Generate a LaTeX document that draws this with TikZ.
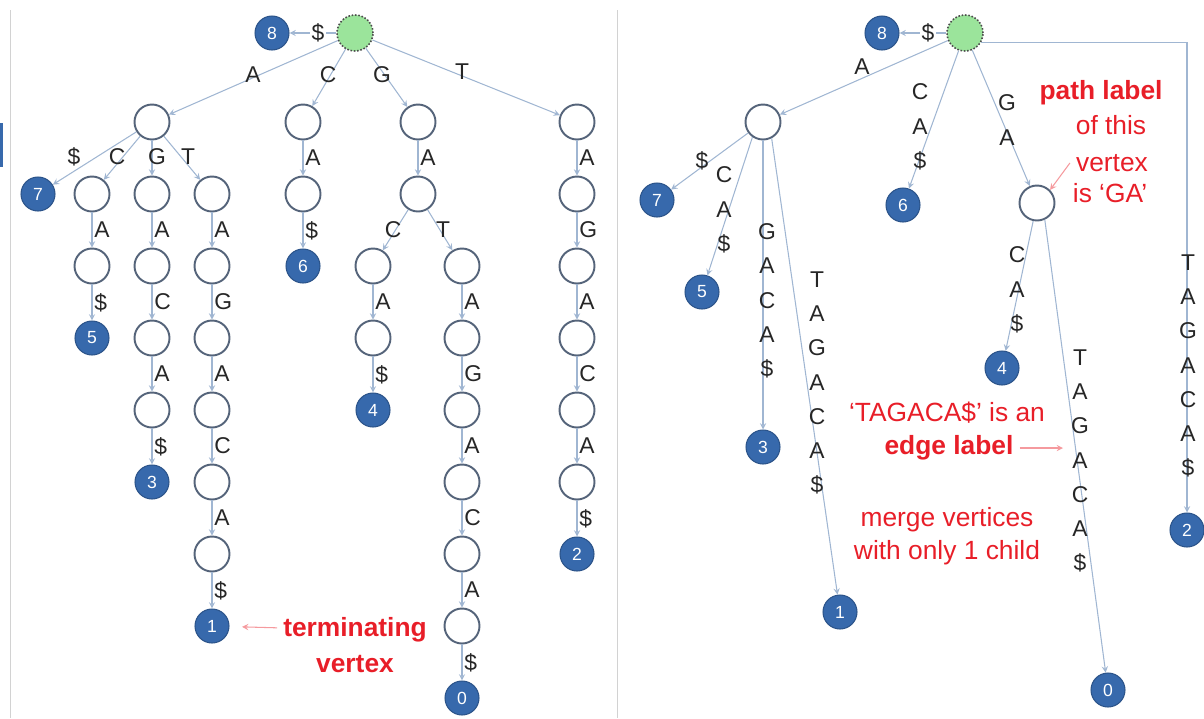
\documentclass[tikz,border=0pt]{standalone}
\usepackage{fontspec}
\setmainfont{Liberation Sans}
\definecolor{linea}{RGB}{160,182,210}
\definecolor{borde}{RGB}{85,100,122}
\definecolor{azul}{RGB}{55,105,172}
\definecolor{verde}{RGB}{155,228,155}
\definecolor{rojo}{RGB}{232,30,40}
\begin{document}
\begin{tikzpicture}[x=0.02cm, y=-0.02cm, >=stealth,
    vacio/.style={circle, draw=borde, line width=1.1pt, fill=white, minimum size=0.7cm, inner sep=0pt},
    hoja/.style={circle, draw=azul!80!black, line width=0.6pt, fill=azul, text=white, minimum size=0.68cm, inner sep=0pt, font=\fontsize{10}{12}\selectfont},
    raiz/.style={circle, draw=gray!60!black, densely dotted, line width=0.9pt, fill=verde, minimum size=0.72cm, inner sep=0pt},
    arista/.style={->, draw=linea, line width=0.6pt},
    letra/.style={inner sep=1pt, text=black!85, font=\fontsize{13}{19.5}\selectfont},
    pila/.style={letra, align=center},
    nota/.style={text=rojo, font=\fontsize{15}{18}\selectfont},
    notab/.style={text=rojo, font=\fontsize{15}{18}\selectfont\bfseries},
    flecha/.style={->, draw=rojo!45, line width=0.6pt}]
    \useasboundingbox (0,0) rectangle (1204,718);

    % Marco
    \draw[gray!35] (10,10) -- (10,718);
    \draw[gray!35] (617,10) -- (617,718);
    \fill[azul] (0,123) rectangle (3,167);

    % Trie de sufijos (izquierda)
    \node[raiz] (iR) at (355,33) {};
    \node[hoja] (i8) at (272,33) {8};
    \node[vacio] (iA) at (152,122) {};
    \node[vacio] (iC) at (303,122) {};
    \node[vacio] (iG) at (418,122) {};
    \node[vacio] (iT) at (577,122) {};
    \draw[arista] (iR) -- (i8);
    \foreach \n in {iA,iC,iG,iT}
        \draw[arista] (iR) -- (\n);
    \node[letra, fill=white] (e8) at (318,33) {\$};
    \node[letra] (eA) at (253,75) {A};
    \node[letra] (eC) at (328,75) {C};
    \node[letra] (eG) at (382,75) {G};
    \node[letra] (eT) at (462,72) {T};

    % Hijos de A
    \node[hoja] (i7) at (38,194) {7};
    \node[vacio] (iAC0) at (92,194) {};
    \node[vacio] (iAG0) at (152,194) {};
    \node[vacio] (iAT0) at (212,194) {};
    \foreach \n in {i7,iAC0,iAG0,iAT0}
        \draw[arista] (iA) -- (\n);
    \node[letra] (eA7) at (74,157) {\$};
    \node[letra] (eAC) at (117,157) {C};
    \node[letra] (eAG) at (157,157) {G};
    \node[letra] (eAT) at (188,157) {T};

    % Rama AC
    \node[vacio] (iAC1) at (92,266) {};
    \node[hoja] (i5) at (92,338) {5};
    \draw[arista] (iAC0) -- node[letra, right] (eAC1) {A} (iAC1);
    \draw[arista] (iAC1) -- node[letra, right] (eAC2) {\$} (i5);

    % Rama AG
    \foreach \l [count=\i, remember=\i as \p (initially 0)] in {A,C,A} {
        \node[vacio] (iAG\i) at (152,{194+72*\i}) {};
        \draw[arista] (iAG\p) -- node[letra, right] (eAG\i) {\l} (iAG\i);
    }
    \node[hoja] (i3) at (152,482) {3};
    \draw[arista] (iAG3) -- node[letra, right] (eAG4) {\$} (i3);

    % Rama AT
    \foreach \l [count=\i, remember=\i as \p (initially 0)] in {A,G,A,C,A} {
        \node[vacio] (iAT\i) at (212,{194+72*\i}) {};
        \draw[arista] (iAT\p) -- node[letra, right] (eAT\i) {\l} (iAT\i);
    }
    \node[hoja] (i1) at (212,626) {1};
    \draw[arista] (iAT5) -- node[letra, right] (eAT6) {\$} (i1);

    % Rama C
    \node[vacio] (iC1) at (303,194) {};
    \node[hoja] (i6) at (303,266) {6};
    \draw[arista] (iC) -- node[letra, right] (eC1) {A} (iC1);
    \draw[arista] (iC1) -- node[letra, right] (eC2) {\$} (i6);

    % Rama G
    \node[vacio] (iG1) at (418,194) {};
    \draw[arista] (iG) -- node[letra, right] (eG1) {A} (iG1);
    \node[vacio] (iGC0) at (373,266) {};
    \node[vacio] (iGT0) at (462,266) {};
    \draw[arista] (iG1) -- (iGC0);
    \draw[arista] (iG1) -- (iGT0);
    \node[letra] (eGC) at (393,230) {C};
    \node[letra] (eGT) at (443,230) {T};
    \node[vacio] (iGC1) at (373,338) {};
    \node[hoja] (i4) at (373,410) {4};
    \draw[arista] (iGC0) -- node[letra, right] (eGC1) {A} (iGC1);
    \draw[arista] (iGC1) -- node[letra, right] (eGC2) {\$} (i4);
    \foreach \l [count=\i, remember=\i as \p (initially 0)] in {A,G,A,C,A} {
        \node[vacio] (iGT\i) at (462,{266+72*\i}) {};
        \draw[arista] (iGT\p) -- node[letra, right] (eGT\i) {\l} (iGT\i);
    }
    \node[hoja] (i0) at (462,698) {0};
    \draw[arista] (iGT5) -- node[letra, right] (eGT6) {\$} (i0);

    % Rama T
    \foreach \l [count=\i] in {A,G,A,C,A} {
        \node[vacio] (iT\i) at (577,{122+72*\i}) {};
    }
    \draw[arista] (iT) -- node[letra, right] (eT1) {A} (iT1);
    \draw[arista] (iT1) -- node[letra, right] (eT2) {G} (iT2);
    \draw[arista] (iT2) -- node[letra, right] (eT3) {A} (iT3);
    \draw[arista] (iT3) -- node[letra, right] (eT4) {C} (iT4);
    \draw[arista] (iT4) -- node[letra, right] (eT5) {A} (iT5);
    \node[hoja] (i2) at (577,554) {2};
    \draw[arista] (iT5) -- node[letra, right] (eT6) {\$} (i2);

    % Nota izquierda
    \node[notab] (nt1) at (355,630) {terminating};
    \node[notab] (nt2) at (355,664) {vertex};
    \draw[flecha, shorten >=0.25cm] (nt1) -- (i1);

    % Arbol de sufijos (derecha)
    \node[raiz] (dR) at (965,33) {};
    \node[hoja] (d8) at (882,33) {8};
    \node[vacio] (dA) at (763,122) {};
    \node[hoja] (d7) at (657,200) {7};
    \node[hoja] (d5) at (702,292) {5};
    \node[hoja] (d3) at (763,447) {3};
    \node[hoja] (d1) at (840,612) {1};
    \node[hoja] (d6) at (903,205) {6};
    \node[vacio] (dGA) at (1037,203) {};
    \node[hoja] (d4) at (1002,368) {4};
    \node[hoja] (d0) at (1108,690) {0};
    \node[hoja] (d2) at (1187,530) {2};
    \draw[arista] (dR) -- (d8);
    \draw[arista] (dR) -- (dA);
    \draw[arista] (dR) -- (d6);
    \draw[arista] (dR) -- (dGA);
    \draw[arista] (dR.-30) -| (d2);
    \draw[arista] (dA) -- (d7);
    \draw[arista] (dA.-125) -- (d5);
    \draw[arista] (dA) -- (d3);
    \draw[arista] (dA.-62) -- (d1);
    \draw[arista] (dGA) -- (d4);
    \draw[arista] (dGA.-65) -- (d0);

    % Etiquetas de aristas
    \node[letra, fill=white] (f8) at (928,33) {\$};
    \node[letra] (fA) at (862,67) {A};
    \node[letra] (f7) at (702,161) {\$};
    \node[pila] (f5) at (724,210) {C\\A\\\$};
    \node[pila] (f3) at (767,301) {G\\A\\C\\A\\\$};
    \node[pila] (f1) at (817,383) {T\\A\\G\\A\\C\\A\\\$};
    \node[pila] (f6) at (920,127) {C\\A\\\$};
    \node[pila] (fGA) at (1007,120) {G\\A};
    \node[pila] (f4) at (1017,290) {C\\A\\\$};
    \node[pila] (f0) at (1080,461) {T\\A\\G\\A\\C\\A\\\$};
    \node[pila] (f2) at (1188,366) {T\\A\\G\\A\\C\\A\\\$};

    % Notas derecha
    \node[notab] (np1) at (1101,93) {path label};
    \node[nota] (np2) at (1111,125) {of this};
    \node[nota] (np3) at (1112,163) {vertex};
    \node[nota] (np4) at (1110,193) {is `GA'};
    \draw[flecha] (np3.west) -- (dGA.45);
    \node[nota] (ne1) at (947,413) {`TAGACA\$' is an};
    \node[notab] (ne2) at (949,448) {edge label};
    \coordinate (pe) at (1063,448);
    \draw[flecha] (ne2) -- (pe);
    \node[nota] (nm1) at (947,520) {merge vertices};
    \node[nota] (nm2) at (947,553) {with only 1 child};
\end{tikzpicture}
\end{document}
